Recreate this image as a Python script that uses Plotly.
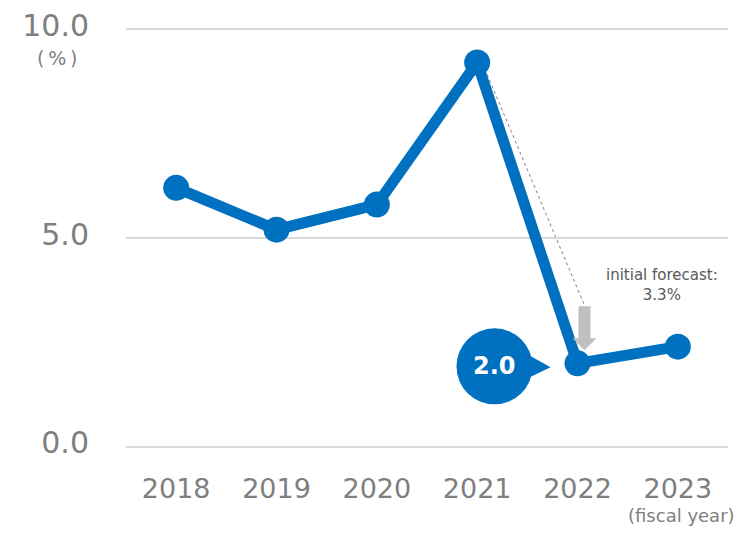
import plotly.graph_objects as go

years = ["2018", "2019", "2020", "2021", "2022", "2023"]
values = [6.2, 5.2, 5.8, 9.2, 2.0, 2.4]
y_ticks = [0, 5, 10]
y_tick_labels = ["0.0", "5.0", "10.0"]
highlight_year = "2022"
highlight_value = 2.0
forecast_text = "initial forecast:<br>3.3%"

BLUE = "#0070C0"
GRAY_TXT = "#7F7F7F"

# category index of the highlighted year (numeric-like categories need the index)
hx = years.index(highlight_year)

fig = go.Figure()
fig.add_trace(go.Scatter(
    x=years, y=values, mode="lines+markers",
    line=dict(color=BLUE, width=11),
    marker=dict(color=BLUE, size=26),
    cliponaxis=False, hoverinfo="skip",
))

common = dict(xref="x", yref="y", xsizemode="pixel", ysizemode="pixel",
              xanchor=hx, yanchor=highlight_value)

# dotted guide line from 2021 point to the forecast arrow
fig.add_shape(type="path", path="M -95 300 L 7 58",
              line=dict(color="#7F7F7F", width=1, dash="dot"), layer="below", **common)

# gray block arrow (forecast -> actual)
fig.add_shape(type="path",
              path="M 1 57 L 13 57 L 13 25 L 19 25 L 7 13 L -5 25 L 1 25 Z",
              fillcolor="#C0C0C0", line=dict(width=0), layer="above", **common)

# callout bubble
fig.add_shape(type="circle", x0=-121, x1=-45, y0=-41, y1=35,
              fillcolor=BLUE, line=dict(width=0), **common)
fig.add_shape(type="path", path="M -52 10 L -27 -4 L -52 -16 Z",
              fillcolor=BLUE, line=dict(width=0), **common)

fig.add_annotation(x=hx, y=highlight_value, xref="x", yref="y",
                   text=f"<b>{highlight_value:.1f}</b>", showarrow=False,
                   xshift=-83, yshift=-3,
                   font=dict(family="DejaVu Sans", size=24, color="white"))

fig.add_annotation(x=hx, y=highlight_value, xref="x", yref="y",
                   text=forecast_text, showarrow=False,
                   xshift=84, yshift=78, align="center",
                   font=dict(family="DejaVu Sans", size=15, color="#595959"))

fig.add_annotation(x=-0.1146, y=0.926, xref="paper", yref="paper",
                   text="(\u2009%\u2009)", showarrow=False,
                   xanchor="center", yanchor="middle",
                   font=dict(family="DejaVu Sans", size=19, color=GRAY_TXT))

fig.add_annotation(x=0.922, y=-0.158, xref="paper", yref="paper",
                   text="(fiscal year)", showarrow=False,
                   xanchor="center", yanchor="middle",
                   font=dict(family="DejaVu Sans", size=18, color=GRAY_TXT))

fig.update_layout(
    width=754, height=534,
    margin=dict(l=126, r=26, t=27, b=85, autoexpand=False),
    plot_bgcolor="white", paper_bgcolor="white",
    showlegend=False,
    xaxis=dict(type="category", range=[-0.5, 5.5], showgrid=False, zeroline=False,
               showline=False, ticks="", ticklabelstandoff=21, automargin=False,
               tickfont=dict(family="DejaVu Sans", size=27, color=GRAY_TXT)),
    yaxis=dict(range=[-0.05, 10.05], tickvals=y_ticks, ticktext=y_tick_labels,
               showgrid=True, gridcolor="#D9D9D9", gridwidth=2,
               zeroline=False, showline=False, ticks="", automargin=False,
               ticklabelstandoff=36, ticklabelshift=-4,
               tickfont=dict(family="DejaVu Sans", size=30, color=GRAY_TXT)),
)

fig.write_html("out.html")
